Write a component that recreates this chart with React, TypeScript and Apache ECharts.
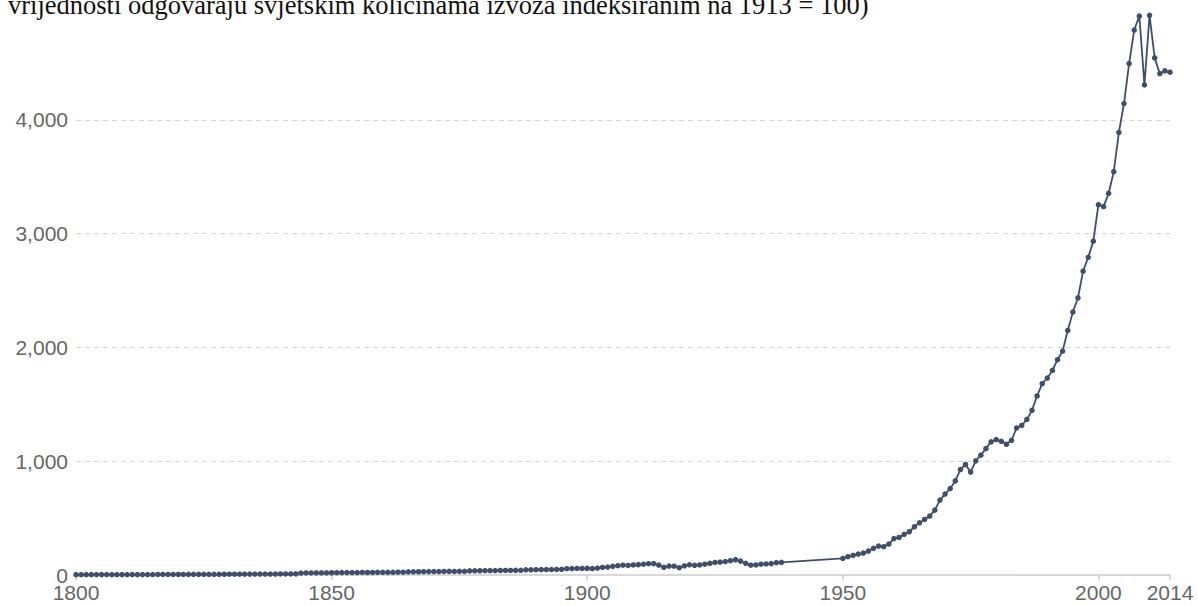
import React, { useEffect, useRef } from "react";
import * as echarts from "echarts";

const titleText = "vrijednosti odgovaraju svjetskim količinama izvoza indeksiranim na 1913 = 100)";

const startYearA = 1800;
const values1800to1899 = [
  3.1, 3.0, 3.2, 3.4, 3.3, 3.5, 3.6, 3.4, 3.0, 3.3,
  3.7, 3.6, 3.5, 3.8, 4.0, 4.3, 4.5, 4.6, 4.9, 4.8,
  5.0, 5.2, 5.3, 5.5, 5.8, 6.1, 5.9, 6.2, 6.4, 6.6,
  6.8, 7.0, 7.1, 7.4, 7.7, 8.1, 8.4, 8.2, 8.5, 8.7,
  8.9, 9.1, 9.4, 9.8, 17.5, 18.0, 18.4, 18.9, 18.6, 19.2,
  19.8, 20.3, 20.9, 21.4, 21.2, 21.8, 22.3, 22.0, 22.6, 23.1,
  23.5, 23.2, 23.8, 24.3, 24.8, 27.5, 28.0, 28.6, 29.1, 29.7,
  30.0, 30.6, 31.2, 31.8, 31.5, 32.1, 32.8, 36.0, 36.6, 37.3,
  37.9, 38.5, 39.1, 39.6, 40.2, 40.0, 40.8, 41.5, 45.2, 46.0,
  46.8, 47.5, 48.1, 48.0, 48.9, 49.8, 55.5, 56.6, 57.4, 57.8,
];

const startYearB = 1900;
const values1900to1938 = [
  58, 56, 61, 66, 70, 76, 82, 86, 84, 88,
  91, 95, 99, 100, 87, 68, 78, 77, 64, 81,
  90, 85, 88, 95, 102, 110, 113, 118, 126, 134,
  122, 103, 86, 88, 95, 97, 100, 108, 111,
];

const startYearC = 1950;
const values1950to2014 = [
  146, 161, 172, 184, 192, 210, 234, 254, 249, 272,
  320, 330, 357, 380, 424, 459, 488, 518, 570, 658,
  711, 760, 827, 927, 971, 904, 1003, 1053, 1111, 1170,
  1190, 1175, 1149, 1184, 1292, 1314, 1367, 1447, 1573, 1681,
  1731, 1798, 1892, 1968, 2149, 2310, 2436, 2670, 2792, 2933,
  3254, 3237, 3354, 3544, 3889, 4143, 4494, 4789, 4912, 4307,
  4918, 4544, 4406, 4430, 4418,
];

const xMin = 1800;
const xMax = 2014;
const yTicks = [0, 1000, 2000, 3000, 4000];

function toPairs(start: number, vals: number[]): [number, number][] {
  return vals.map((v, i) => [start + i, v]);
}

export default function App() {
  const ref = useRef<HTMLDivElement>(null);
  useEffect(() => {
    if (!ref.current) return;
    const chart = echarts.init(ref.current, null, { renderer: "svg" });
    const data = [
      ...toPairs(startYearA, values1800to1899),
      ...toPairs(startYearB, values1900to1938),
      ...toPairs(startYearC, values1950to2014),
    ];
    const lineColor = "#3d4f6c";
    chart.setOption({
      animation: false,
      textStyle: { fontFamily: "'Liberation Sans', Arial, sans-serif" },
      grid: { left: 76, right: 28, top: 6, bottom: 31, containLabel: false },
      graphic: [
        {
          type: "text",
          left: 8,
          top: -9,
          style: {
            text: titleText,
            fontFamily: "'Liberation Serif', 'Times New Roman', serif",
            fontSize: 26.5,
            fill: "#111",
          },
        },
      ],
      xAxis: {
        type: "value",
        min: xMin,
        max: xMax,
        interval: 50,
        axisLine: { show: true, lineStyle: { color: "#ccc", width: 1.5 } },
        axisTick: { show: true, length: 5, lineStyle: { color: "#ccc", width: 1.5 } },
        splitLine: { show: false },
        axisLabel: {
          color: "#666",
          fontSize: 21,
          lineHeight: 19,
          margin: 8,
          formatter: (v: number) => String(v),
        },
      },
      yAxis: {
        type: "value",
        min: 0,
        max: 5000,
        interval: 1000,
        axisLine: { show: false },
        axisTick: { show: false },
        axisLabel: {
          color: "#666",
          fontSize: 21,
          lineHeight: 14,
          margin: 8,
          showMaxLabel: false,
          formatter: (v: number) => (yTicks.indexOf(v) >= 0 ? v.toLocaleString("en-US") : ""),
        },
        splitLine: {
          show: true,
          lineStyle: {
            color: ["transparent", "#d6d6d6", "#d6d6d6", "#d6d6d6", "#d6d6d6", "transparent"],
            type: [5, 4],
            width: 1,
          },
        },
      },
      series: [
        {
          type: "line",
          data,
          symbol: "circle",
          symbolSize: 5.5,
          showSymbol: true,
          lineStyle: { color: lineColor, width: 1.8 },
          itemStyle: { color: lineColor },
        },
      ],
    });
    return () => chart.dispose();
  }, []);
  return (
    <div
      ref={ref}
      style={{ position: "fixed", left: 0, top: 0, width: 1198, height: 606, background: "#fff" }}
    />
  );
}
